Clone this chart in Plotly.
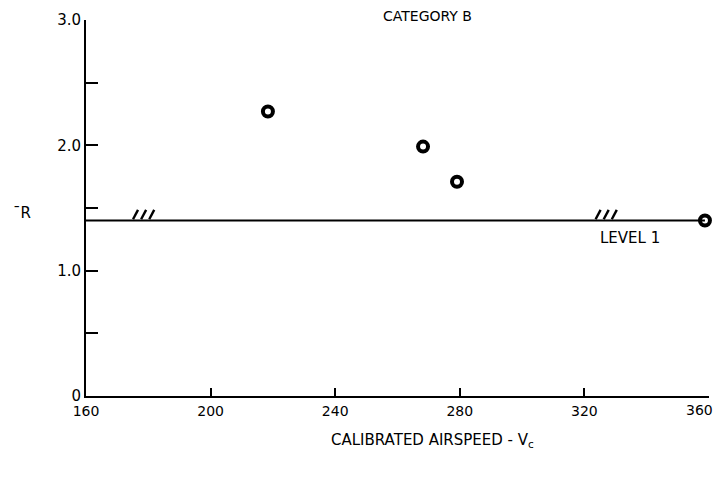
import plotly.graph_objects as go

# Data
airspeed = [218.4, 268.2, 279.1, 358.7]
tau_r = [2.27, 1.99, 1.71, 1.40]
level1_value = 1.40
level1_x = [160, 358.7]
hatch_centers = [178.5, 327.0]   # locations of "///" boundary hatch marks
x_ticks = [160, 200, 240, 280, 320, 360]
y_ticks = [0, 1.0, 2.0, 3.0]
y_tick_labels = ["0", "1.0", "2.0", "3.0"]

FONT = "DejaVu Sans"
PW, PH = 623, 376  # plot area size in px
OFF = 8            # page body margin

fig = go.Figure()

# Level 1 boundary line
fig.add_trace(go.Scatter(
    x=level1_x, y=[level1_value, level1_value], mode="lines",
    line=dict(color="black", width=2), showlegend=False, hoverinfo="skip"))

# Hatch marks (three slanted strokes per group)
hx, hy = [], []
for c in hatch_centers:
    for i in (-1, 0, 1):
        x0 = c + i * 2.6 - 0.8
        hx += [x0, x0 + 1.6, None]
        hy += [level1_value + 0.01, level1_value + 0.085, None]
fig.add_trace(go.Scatter(
    x=hx, y=hy, mode="lines", line=dict(color="black", width=2.4),
    showlegend=False, hoverinfo="skip"))

# Data points
fig.add_trace(go.Scatter(
    x=airspeed, y=tau_r, mode="markers",
    marker=dict(symbol="circle-open", size=10, color="black",
                line=dict(color="black", width=4)),
    cliponaxis=False, showlegend=False))

fig.add_annotation(x=334.6, y=1.26, text="LEVEL 1", showarrow=False,
                   font=dict(family=FONT, size=15, color="black"))

# Title
fig.add_annotation(xref="paper", yref="paper", x=(427 - 86) / PW, y=1 + 4 / PH,
                   text="CATEGORY B", showarrow=False, xanchor="center", yanchor="middle",
                   font=dict(family=FONT, size=14, color="black"))

# Y axis label
fig.add_annotation(xref="paper", yref="paper", x=-64 / PW, y=(396 - 213) / PH,
                   text="\u00afR", showarrow=False, xanchor="center", yanchor="middle",
                   font=dict(family=FONT, size=15, color="black"))

# X axis title
fig.add_annotation(xref="paper", yref="paper", x=(432 - 86) / PW, y=-(440 - 396) / PH,
                   text="CALIBRATED AIRSPEED - V<sub>c</sub>", showarrow=False,
                   xanchor="center", yanchor="middle",
                   font=dict(family=FONT, size=15, color="black"))

# Last x tick label kept inside the visible page
x_tick_text = [str(v) for v in x_ticks]
fig.add_annotation(x=x_ticks[-1], xref="x", yref="paper", y=-(410 - 396) / PH,
                   text=x_tick_text[-1], showarrow=False, xanchor="right", xshift=6,
                   yanchor="middle", font=dict(family=FONT, size=14, color="black"))
x_tick_text[-1] = ""

fig.update_layout(
    width=723 - OFF, height=483 - 2 * OFF,
    margin=dict(l=86 - OFF, r=14, t=20 - OFF, b=87 - OFF, autoexpand=False),
    paper_bgcolor="white", plot_bgcolor="white",
    font=dict(family=FONT, size=15, color="black"),
    showlegend=False,
)

fig.update_xaxes(
    range=[160, 360], tickvals=x_ticks, ticktext=x_tick_text,
    showgrid=False, zeroline=False, showline=True, linecolor="black", linewidth=2,
    ticks="inside", ticklen=8, tickwidth=2, tickcolor="black", automargin=False,
    ticklabelstandoff=1, ticklabeloverflow="allow",
    tickfont=dict(family=FONT, size=14, color="black"),
)
fig.update_yaxes(
    range=[0, 3.0], tickvals=y_ticks, ticktext=y_tick_labels,
    showgrid=False, zeroline=False, showline=True, linecolor="black", linewidth=2,
    ticks="inside", ticklen=12, tickwidth=2, tickcolor="black", automargin=False,
    ticklabeloverflow="allow",
    tickfont=dict(family=FONT, size=15, color="black"),
    minor=dict(dtick=0.5, ticks="inside", ticklen=12, tickwidth=2, tickcolor="black"),
)

fig.write_html("out.html")
